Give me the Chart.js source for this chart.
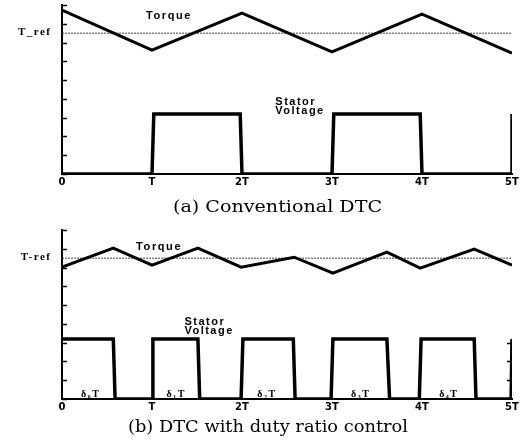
<!DOCTYPE html>
<html>
<head>
<meta charset="utf-8">
<script src="https://cdn.jsdelivr.net/npm/chart.js@4"></script>
<style>
  html, body { margin: 0; padding: 0; background: #fff; }
  #wrap { position: relative; width: 526px; height: 444px; overflow: hidden; }
  canvas { position: absolute; left: 0; }
  #c1 { top: 0; }
  #c2 { top: 200px; }
  .caption {
    position: absolute; white-space: nowrap; line-height: 18px;
    font-family: "DejaVu Serif", serif; font-size: 16px; color: #000;
    transform-origin: left center;
  }
</style>
</head>
<body>
<div id="wrap">
  <canvas id="c1" width="526" height="200"></canvas>
  <canvas id="c2" width="526" height="244"></canvas>
  <span class="caption" id="capA" style="left:173px; top:198px;" data-w="209">(a) Conventional DTC</span>
  <span class="caption" id="capB" style="left:128px; top:418px;" data-w="280">(b) DTC with duty ratio control</span>
</div>
<script>
// x axis in periods T, y axis in arbitrary units (9 tick steps)
const periodTicks = [0, 1, 2, 3, 4, 5];
const periodLabels = ['0', 'T', '2T', '3T', '4T', '5T'];
const torqueRef = 7.5;

// (a) conventional DTC
const torqueAX = [0, 1, 2, 3, 4, 5];
const torqueAY = [8.73, 6.6, 8.57, 6.5, 8.52, 6.44];
const voltAX = [0, 1, 1.02, 1.98, 2.0, 3.0, 3.02, 3.98, 4.0, 5.0, 5.0];
const voltAY = [0, 0, 3.2, 3.2, 0, 0, 3.2, 3.2, 0, 0, 3.2];

// (b) DTC with duty ratio control
const torqueBX = [0, 0.57, 1.0, 1.51, 1.99, 2.58, 3.01, 3.61, 3.98, 4.58, 5.0];
const torqueBY = [7.02, 8.03, 7.13, 8.03, 7.02, 7.55, 6.7, 7.82, 6.97, 7.98, 7.13];
const voltBX = [0, 0.57, 0.59, 1.0, 1.01, 1.51, 1.53, 1.99, 2.01, 2.57, 2.59, 2.99, 3.01, 3.61, 3.64, 3.97, 3.99, 4.58, 4.60, 4.99, 5.0];
const voltBY = [3.2, 3.2, 0, 0, 3.2, 3.2, 0, 0, 3.2, 3.2, 0, 0, 3.2, 3.2, 0, 0, 3.2, 3.2, 0, 0, 3.2];
const dutyLabels = ['δ₀T', 'δ₁T', 'δ₂T', 'δ₃T', 'δ₄T'];
const dutyCentres = [0.31, 1.26, 2.27, 3.31, 4.29];

const pts = (xs, ys) => xs.map((x, i) => ({ x: x, y: ys[i] }));

// inward tick marks + text labels placed through the scales
const overlay = {
  id: 'overlay',
  afterDatasetsDraw(chart, args, opts) {
    const ctx = chart.ctx;
    const x = chart.scales.x, y = chart.scales.y;
    const area = chart.chartArea;
    ctx.save();
    ctx.strokeStyle = '#000';
    ctx.lineWidth = 1.5;
    y.ticks.forEach(t => {
      const py = Math.round(y.getPixelForValue(t.value)) + 0.5;
      ctx.beginPath();
      ctx.moveTo(area.left, py);
      ctx.lineTo(area.left + 5, py);
      ctx.stroke();
    });
    (opts.rightTicks || []).forEach(v => {
      const py = Math.round(y.getPixelForValue(v)) + 0.5;
      ctx.beginPath();
      ctx.moveTo(area.right, py);
      ctx.lineTo(area.right - 5, py);
      ctx.stroke();
    });
    ctx.fillStyle = '#000';
    ctx.textBaseline = 'middle';
    (opts.labels || []).forEach(l => {
      ctx.font = l.font;
      ctx.letterSpacing = l.spacing || '0px';
      ctx.textAlign = l.align || 'left';
      let px = l.px !== undefined ? l.px : x.getPixelForValue(l.x);
      // centred text: ignore the trailing letter spacing
      if (l.align === 'center' && l.spacing) px += parseFloat(l.spacing) / 2;
      if (l.align === 'right' && l.spacing) px += parseFloat(l.spacing);
      ctx.fillText(l.text, px, y.getPixelForValue(l.y));
    });
    ctx.restore();
  }
};

function makeChart(id, torque, volt, padTop, xHeight, labels, rightTicks) {
  return new Chart(document.getElementById(id), {
    type: 'line',
    data: {
      datasets: [
        { data: torque, borderColor: '#000', borderWidth: 3, pointRadius: 0, tension: 0 },
        { data: volt, borderColor: '#000', borderWidth: 3.5, pointRadius: 0, tension: 0 },
        { data: [{ x: 0, y: torqueRef }, { x: 5, y: torqueRef }], borderColor: '#444',
          borderWidth: 1, borderDash: [2, 1], pointRadius: 0 }
      ]
    },
    options: {
      responsive: false,
      animation: false,
      layout: { padding: { top: padTop, right: 14, left: 0, bottom: 0 } },
      plugins: {
        legend: { display: false },
        tooltip: { enabled: false },
        overlay: { labels: labels, rightTicks: rightTicks }
      },
      scales: {
        x: {
          type: 'linear', min: 0, max: 5,
          afterBuildTicks: s => { s.ticks = periodTicks.map(v => ({ value: v })); },
          afterFit: s => { s.height = xHeight; s.paddingLeft = 0; s.paddingRight = 0; },
          grid: { drawOnChartArea: false, drawTicks: false },
          border: { color: '#000', width: 2 },
          ticks: {
            padding: 2,
            color: '#000',
            font: { family: 'DejaVu Sans', size: 10, weight: 'bold' },
            callback: v => periodLabels[periodTicks.indexOf(v)],
            maxRotation: 0
          }
        },
        y: {
          min: 0, max: 9,
          afterFit: s => { s.width = 62; s.paddingTop = 0; s.paddingBottom = 0; },
          grid: { drawOnChartArea: false, drawTicks: false },
          border: { color: '#000', width: 2 },
          ticks: { stepSize: 1, display: false }
        }
      }
    },
    plugins: [overlay]
  });
}

const labelFont = 'bold 11px "Liberation Sans"';
const refFont = 'bold 11px "Liberation Serif"';

makeChart('c1', pts(torqueAX, torqueAY), pts(voltAX, voltAY), 5, 26, [
  { text: 'T_ref', px: 50, y: torqueRef + 0.03, align: 'right', font: refFont, spacing: '1.5px' },
  { text: 'Torque', x: 1.18, y: 8.4, align: 'center', font: labelFont, spacing: '1.6px' },
  { text: 'Stator', x: 2.37, y: 3.84, font: labelFont, spacing: '1.5px' },
  { text: 'Voltage', x: 2.37, y: 3.36, font: labelFont, spacing: '1.5px' }
], []);

makeChart('c2', pts(torqueBX, torqueBY), pts(voltBX, voltBY), 30, 45, [
  { text: 'T-ref', px: 50, y: torqueRef + 0.08, align: 'right', font: refFont, spacing: '1.5px' },
  { text: 'Torque', x: 1.07, y: 8.1, align: 'center', font: labelFont, spacing: '1.6px' },
  { text: 'Stator', x: 1.36, y: 4.1, font: labelFont, spacing: '1.5px' },
  { text: 'Voltage', x: 1.36, y: 3.6, font: labelFont, spacing: '1.5px' }
].concat(dutyLabels.map((t, i) => ({
  text: t, x: dutyCentres[i], y: 0.25, align: 'center', font: 'bold 10px "Liberation Serif"', spacing: '1.5px'
}))), [1, 2, 3]);

// stretch captions to the width they take in the original
document.querySelectorAll('.caption').forEach(el => {
  const w = el.getBoundingClientRect().width;
  el.style.transform = 'scaleX(' + (parseFloat(el.dataset.w) / w) + ')';
});
</script>
</body>
</html>
